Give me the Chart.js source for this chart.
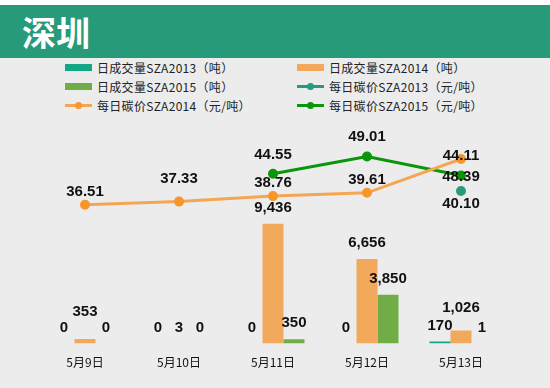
<!DOCTYPE html>
<html>
<head>
<meta charset="utf-8">
<script src="https://cdn.jsdelivr.net/npm/chart.js@4.4.1/dist/chart.umd.min.js"></script>
<style>
  html, body { margin: 0; padding: 0; }
  body { width: 550px; height: 388px; background: #ececec; position: relative; overflow: hidden;
         font-family: "Noto Sans CJK SC", "Noto Sans", sans-serif; }
  #top { position: absolute; left: 0; top: 0; width: 550px; height: 5px; background: #fff; }
  #banner { position: absolute; left: 0; top: 5px; width: 550px; height: 53px; background: #269a79;
            color: #fff; font-size: 34px; font-weight: bold; line-height: 53px; padding-left: 22px; box-sizing: border-box; }
  #legend { position: absolute; left: 65px; top: 58px; width: 470px; font-size: 12px; color: #222;
            display: grid; grid-template-columns: 232px 232px; grid-auto-rows: 19px; letter-spacing: 0.3px; }
  .item { display: flex; align-items: center; white-space: nowrap; }
  .sw { width: 27px; height: 19px; margin-right: 5px; position: relative; flex: none; }
  .sw .bar { position: absolute; left: 0; top: 6px; width: 27px; height: 7px; }
  .sw .ln { position: absolute; left: 0; top: 8px; width: 27px; height: 3px; }
  .sw .dot { position: absolute; left: 10px; top: 6px; width: 7px; height: 7px; border-radius: 50%; }
  #wrap { position: absolute; left: 0; top: 0; width: 550px; height: 388px; }
</style>
</head>
<body>
<div id="top"></div>
<div id="banner">深圳</div>
<div id="legend"></div>
<div id="wrap"><canvas id="chart" width="550" height="388"></canvas></div>
<script>
// 数据
const dates = ['5月9日', '5月10日', '5月11日', '5月12日', '5月13日'];
const vol2013 = [0, 0, 0, 0, 170];
const vol2014 = [353, 3, 9436, 6656, 1026];
const vol2015 = [0, 0, 350, 3850, 1];
const price2013 = [null, null, null, null, 40.10];
const price2014 = [36.51, 37.33, 38.76, 39.61, 48.39];
const price2015 = [null, null, 44.55, 49.01, 44.11];

const cTeal = '#13a785';
const cOrange = '#f2a95c';
const cGreen = '#70ad47';
const cTealLine = '#2a9a7c';
const cOrangeLine = '#f5a655';
const cOrangeDot = '#f7962a';
const cGreenLine = '#0a960a';

// 标签偏移（像素，正数向上）
const labelShift = {
    '1-0': 27, '1-4': 23,
    '4-4': -18, '5-4': 20,
    '3-4': -13, '4-1': 23, '5-2': 19, '5-3': 20
};

const labelPlugin = {
    id: 'valueLabels',
    afterDatasetsDraw(chart) {
        const ctx = chart.ctx;
        ctx.save();
        ctx.font = 'bold 15px "Liberation Sans", Arial, sans-serif';
        ctx.fillStyle = '#111';
        ctx.textAlign = 'center';
        ctx.textBaseline = 'middle';
        chart.data.datasets.forEach((ds, i) => {
            const meta = chart.getDatasetMeta(i);
            meta.data.forEach((el, j) => {
                const v = ds.data[j];
                if (v === null || v === undefined) return;
                let txt, y;
                const key = i + '-' + j;
                if (ds.type === 'line') {
                    txt = v.toFixed(2);
                    y = el.y - (labelShift[key] !== undefined ? labelShift[key] : 13);
                } else {
                    txt = v.toLocaleString('en-US');
                    y = el.y - (labelShift[key] !== undefined ? labelShift[key] : 16);
                }
                ctx.fillText(txt, el.x, y);
            });
        });
        ctx.restore();
    }
};

const datasets = [
    { type: 'bar', label: '日成交量SZA2013（吨）', data: vol2013, backgroundColor: cTeal, yAxisID: 'yVol', order: 2 },
    { type: 'bar', label: '日成交量SZA2014（吨）', data: vol2014, backgroundColor: cOrange, yAxisID: 'yVol', order: 2 },
    { type: 'bar', label: '日成交量SZA2015（吨）', data: vol2015, backgroundColor: cGreen, yAxisID: 'yVol', order: 2 },
    { type: 'line', label: '每日碳价SZA2013（元/吨）', data: price2013, borderColor: cTealLine, backgroundColor: cTealLine,
      pointRadius: 3.5, borderWidth: 3, yAxisID: 'yPrice', order: 1 },
    { type: 'line', label: '每日碳价SZA2014（元/吨）', data: price2014, borderColor: cOrangeLine, backgroundColor: cOrangeDot,
      pointBorderColor: cOrangeDot, pointRadius: 3.5, borderWidth: 3, yAxisID: 'yPrice', order: 1 },
    { type: 'line', label: '每日碳价SZA2015（元/吨）', data: price2015, borderColor: cGreenLine, backgroundColor: cGreenLine,
      pointRadius: 3.5, borderWidth: 3, yAxisID: 'yPrice', order: 1 }
];

// 图例
const legend = document.getElementById('legend');
datasets.forEach(ds => {
    const item = document.createElement('div');
    item.className = 'item';
    let sw;
    if (ds.type === 'bar') {
        sw = '<div class="sw"><div class="bar" style="background:' + ds.backgroundColor + '"></div></div>';
    } else {
        sw = '<div class="sw"><div class="ln" style="background:' + ds.borderColor + '"></div>' +
             '<div class="dot" style="background:' + ds.backgroundColor + '"></div></div>';
    }
    item.innerHTML = sw + '<span>' + ds.label + '</span>';
    legend.appendChild(item);
});

new Chart(document.getElementById('chart'), {
    data: { labels: dates, datasets: datasets },
    options: {
        responsive: false,
        animation: false,
        layout: { padding: { left: 38, right: 42, top: 120, bottom: 14 } },
        datasets: {
            bar: { categoryPercentage: 0.67, barPercentage: 1 }
        },
        scales: {
            x: {
                grid: { display: false },
                border: { display: false },
                ticks: { color: '#111', font: { size: 12, family: '"Noto Sans CJK SC", sans-serif' }, padding: 4 }
            },
            yVol: { display: false, min: 0, max: 17600 },
            yPrice: { display: false, min: 0.5, max: 58.5 }
        },
        plugins: {
            legend: { display: false },
            tooltip: { enabled: false }
        }
    },
    plugins: [labelPlugin]
});
</script>
</body>
</html>
